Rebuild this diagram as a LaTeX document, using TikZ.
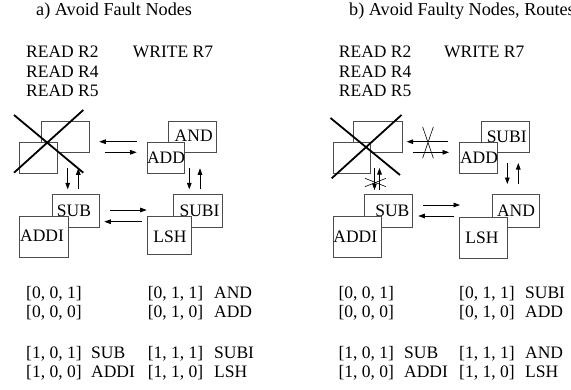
\documentclass[tikz,border=0pt]{standalone}
\usepackage{fontspec}
\setmainfont{Liberation Serif}
\usetikzlibrary{arrows.meta}
\begin{document}
\begin{tikzpicture}[x=1pt,y=-1pt,
  box/.style={draw=black!70, line width=0.9pt, fill=white, inner sep=0pt, anchor=north west},
  txt/.style={inner sep=0pt, anchor=base west, font=\fontsize{17.5}{21}\selectfont},
  ttl/.style={inner sep=0pt, anchor=base west, font=\fontsize{18.2}{21}\selectfont},
  lbl/.style={inner sep=0pt, anchor=base, font=\fontsize{17.5}{21}\selectfont},
  arr/.style={line width=0.8pt, -{Triangle[length=6.5pt,width=4.6pt]}},
  crossline/.style={line width=1.8pt},
  slash/.style={line width=0.6pt}
]
\useasboundingbox (0,0) rectangle (571,389);
\clip (0,0) rectangle (571,389);
% ---------- titles ----------
\node[ttl] (ta) at (36,15) {a) Avoid Fault Nodes};
\node[ttl] (tb) at (349,15) {b) Avoid Faulty Nodes, Routes};
% ---------- left panel header ----------
\node[txt] (Lr2) at (26,57.3) {READ R2};
\node[txt] (Lw7) at (132.7,57.3) {WRITE R7};
\node[txt] (Lr4) at (26,77.3) {READ R4};
\node[txt] (Lr5) at (26,96.7) {READ R5};
% ---------- right panel header ----------
\node[txt] (Rr2) at (338.7,57.3) {READ R2};
\node[txt] (Rw7) at (444,57.3) {WRITE R7};
\node[txt] (Rr4) at (338.7,77.3) {READ R4};
\node[txt] (Rr5) at (338.7,96.7) {READ R5};
% ---------- left panel boxes ----------
\node[box, minimum width=48.3pt, minimum height=31.6pt] (LfB) at (40.7,120.7) {};
\node[box, minimum width=37.4pt, minimum height=31.6pt] (LfF) at (19.3,141.7) {};
\node[box, minimum width=47.7pt, minimum height=31.6pt] (LandB) at (168.3,120.7) {};
\node[lbl] (LandT) at (193.7,141.7) {AND};
\node[box, minimum width=37.3pt, minimum height=31.6pt] (LaddF) at (147,141.7) {};
\node[lbl] (LaddT) at (166,163.3) {ADD};
\node[box, minimum width=47.6pt, minimum height=32.4pt] (LsubB) at (51.7,194.3) {};
\node[lbl] (LsubT) at (74,216) {SUB};
\node[box, minimum width=48.4pt, minimum height=41pt] (LaddiF) at (19.3,215.7) {};
\node[lbl] (LaddiT) at (42,241.7) {ADDI};
\node[box, minimum width=48.4pt, minimum height=32.4pt] (LsubiB) at (173.3,194.3) {};
\node[lbl] (LsubiT) at (199.5,216) {SUBI};
\node[box, minimum width=43.7pt, minimum height=38.3pt] (LlshF) at (147,215.7) {};
\node[lbl] (LlshT) at (170,242.7) {LSH};
% cross over faulty node
\draw[crossline] (14,115) -- (83.3,172.7);
\draw[crossline] (14,172.7) -- (83.3,110);
% left arrows
\coordinate (La1s) at (136.7,141.7); \coordinate (La1e) at (99.3,141.7);
\coordinate (La2s) at (105,152.3);   \coordinate (La2e) at (136.7,152.3);
\coordinate (La3s) at (67.7,168.3);  \coordinate (La3e) at (67.7,189.3);
\coordinate (La4s) at (78.3,189.3);  \coordinate (La4e) at (78.3,168.3);
\coordinate (La5s) at (189.3,168.3); \coordinate (La5e) at (189.3,189.3);
\coordinate (La6s) at (200,189.3);   \coordinate (La6e) at (200,168.3);
\coordinate (La7s) at (110,210);     \coordinate (La7e) at (146.7,210);
\coordinate (La8s) at (141.7,221.7); \coordinate (La8e) at (104.3,221.7);
\foreach \i in {1,...,8} {\draw[arr] (La\i s) -- (La\i e);}
% ---------- right panel boxes ----------
\node[box, minimum width=48.4pt, minimum height=31.6pt] (RfB) at (353.3,120.7) {};
\node[box, minimum width=37.3pt, minimum height=31.6pt] (RfF) at (332.7,141.7) {};
\node[box, minimum width=48pt, minimum height=31.6pt] (RsubiB) at (480.7,120.7) {};
\node[lbl] (RsubiT) at (506.7,142) {SUBI};
\node[box, minimum width=38pt, minimum height=31.6pt] (RaddF) at (459.3,141.7) {};
\node[lbl] (RaddT) at (479,163.3) {ADD};
\node[box, minimum width=48.3pt, minimum height=32.4pt] (RsubB) at (364,194.3) {};
\node[lbl] (RsubT) at (392.3,216) {SUB};
\node[box, minimum width=48pt, minimum height=41pt] (RaddiF) at (332.7,215.7) {};
\node[lbl] (RaddiT) at (355.3,242) {ADDI};
\node[box, minimum width=47.6pt, minimum height=32.4pt] (RandB) at (491.7,194.3) {};
\node[lbl] (RandT) at (516,216) {AND};
\node[box, minimum width=48pt, minimum height=41pt] (RlshF) at (459.3,217.3) {};
\node[lbl] (RlshT) at (482,243) {LSH};
% cross over faulty node
\draw[crossline] (330.5,118) -- (400,175);
\draw[crossline] (331.7,178.3) -- (401.5,115);
% right arrows
\coordinate (Ra1s) at (448.3,141.7); \coordinate (Ra1e) at (406.7,141.7);
\coordinate (Ra2s) at (412.7,152.3); \coordinate (Ra2e) at (449,152.3);
\coordinate (Ra3s) at (374.5,168);   \coordinate (Ra3e) at (374.5,190);
\coordinate (Ra4s) at (379.5,190);   \coordinate (Ra4e) at (379.5,168);
\coordinate (Ra5s) at (507.3,163);   \coordinate (Ra5e) at (507.3,184);
\coordinate (Ra6s) at (518.3,184);   \coordinate (Ra6e) at (518.3,163);
\coordinate (Ra7s) at (423.3,205);   \coordinate (Ra7e) at (460,205);
\coordinate (Ra8s) at (454.3,216);   \coordinate (Ra8e) at (418.3,216);
\foreach \i in {1,...,8} {\draw[arr] (Ra\i s) -- (Ra\i e);}
% blocked routes
\draw[slash] (422.7,127) -- (433.3,158);
\draw[slash] (433.3,127) -- (422.7,158);
\draw[slash] (365,178.3) -- (386,186.7);
\draw[slash] (365,186.7) -- (386,178.3);
% ---------- left table ----------
\node[txt] (Lt1) at (26,298) {[0, 0, 1]};
\node[txt] (Lt2) at (147.7,298) {[0, 1, 1]};
\node[txt] (Ln2) at (214,298) {AND};
\node[txt] (Lt3) at (26,317.5) {[0, 0, 0]};
\node[txt] (Lt4) at (147.7,317.5) {[0, 1, 0]};
\node[txt] (Ln4) at (214,317.5) {ADD};
\node[txt] (Lt5) at (26,358) {[1, 0, 1]};
\node[txt] (Ln5) at (91,358) {SUB};
\node[txt] (Lt6) at (147.7,358) {[1, 1, 1]};
\node[txt] (Ln6) at (214,358) {SUBI};
\node[txt] (Lt7) at (26,377.5) {[1, 0, 0]};
\node[txt] (Ln7) at (91,377.5) {ADDI};
\node[txt] (Lt8) at (147.7,377.5) {[1, 1, 0]};
\node[txt] (Ln8) at (214,377.5) {LSH};
% ---------- right table ----------
\node[txt] (Rt1) at (338.3,298) {[0, 0, 1]};
\node[txt] (Rt2) at (459,298) {[0, 1, 1]};
\node[txt] (Rn2) at (525,298) {SUBI};
\node[txt] (Rt3) at (338.3,317.5) {[0, 0, 0]};
\node[txt] (Rt4) at (459,317.5) {[0, 1, 0]};
\node[txt] (Rn4) at (525,317.5) {ADD};
\node[txt] (Rt5) at (338.3,358) {[1, 0, 1]};
\node[txt] (Rn5) at (404,358) {SUB};
\node[txt] (Rt6) at (459,358) {[1, 1, 1]};
\node[txt] (Rn6) at (525,358) {AND};
\node[txt] (Rt7) at (338.3,377.5) {[1, 0, 0]};
\node[txt] (Rn7) at (404,377.5) {ADDI};
\node[txt] (Rt8) at (459,377.5) {[1, 1, 0]};
\node[txt] (Rn8) at (525,377.5) {LSH};
\end{tikzpicture}
\end{document}
